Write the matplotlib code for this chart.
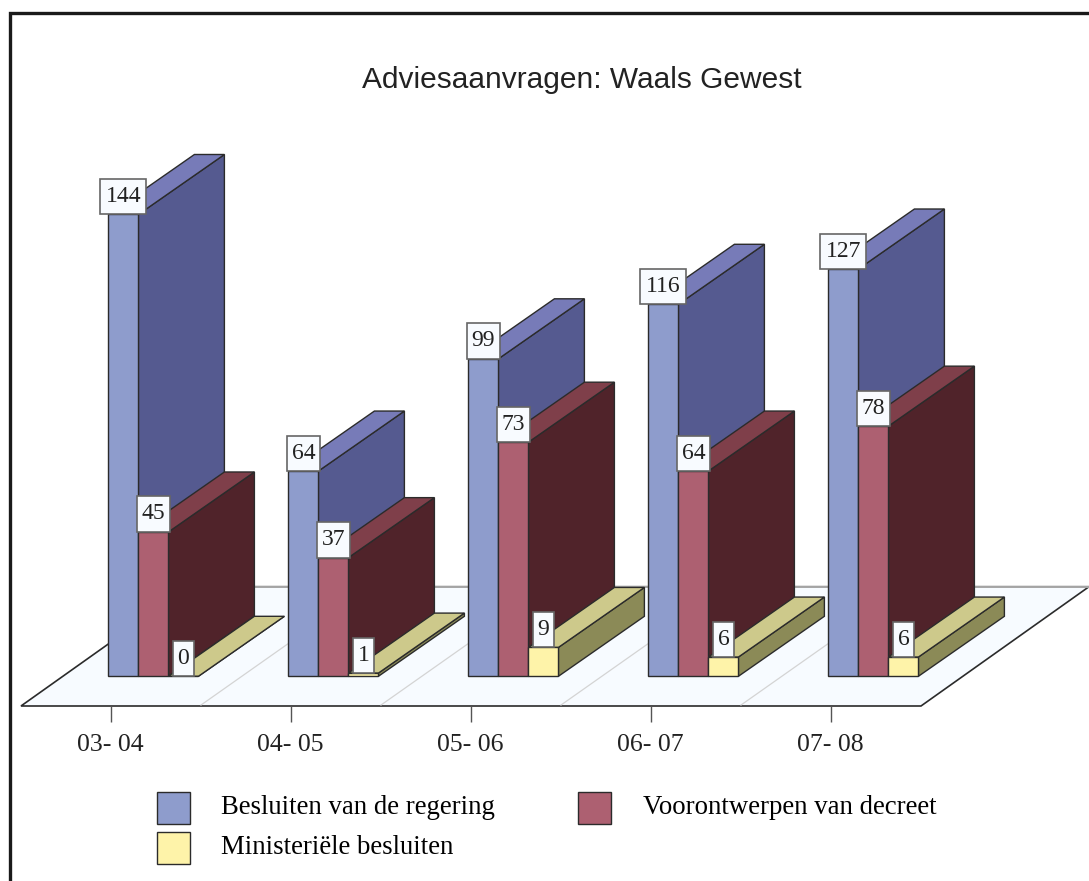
import matplotlib
matplotlib.use('Agg')
import matplotlib.pyplot as plt
from matplotlib.lines import Line2D
from matplotlib.patches import Patch, Polygon, Rectangle
from matplotlib.transforms import Affine2D

years = ['03- 04', '04- 05', '05- 06', '06- 07', '07- 08']
besluiten_regering = [144, 64, 99, 116, 127]
voorontwerpen_decreet = [45, 37, 73, 64, 78]
ministeriele_besluiten = [0, 1, 9, 6, 6]

W, H = 1089, 881
PX_PER_UNIT = 3.207     # pixels per advies
BASE_PX = 676.3
FLOOR_FRONT_PX = 706.0
FLOOR_BACK_PX = 586.7

# x in pixels, y in values
GROUP_STEP = 180
FIRST_BAR = 108.4
BAR_W = 30
DEPTH_X = 86
DEPTH_Y = 60 / PX_PER_UNIT
LINE = '#2b2b2b'
SERIF = 'Liberation Serif'

series = [
    (besluiten_regering, '#8e9ccc', '#777bb8', '#555a90'),
    (voorontwerpen_decreet, '#ad6071', '#7f3f4a', '#50232a'),
    (ministeriele_besluiten, '#fef3a9', '#cdc98b', '#8b8a57'),
]

fig = plt.figure(figsize=(W / 100, H / 100), dpi=100, facecolor='white')
ax = fig.add_axes([0, (H - FLOOR_FRONT_PX) / H, 1, FLOOR_FRONT_PX / H])
ax.set_xlim(0, W)
ax.set_ylim((BASE_PX - FLOOR_FRONT_PX) / PX_PER_UNIT, BASE_PX / PX_PER_UNIT)
ax.set_facecolor('none')
for side in ['top', 'left', 'right', 'bottom']:
    ax.spines[side].set_visible(False)
ax.get_yaxis().set_visible(False)

# floor
floor_y0 = (BASE_PX - FLOOR_FRONT_PX) / PX_PER_UNIT
floor_y1 = (BASE_PX - FLOOR_BACK_PX) / PX_PER_UNIT
ax.add_patch(Polygon([(21, floor_y0), (921, floor_y0), (1089, floor_y1), (189, floor_y1)],
                     facecolor='#f7fbff', edgecolor=LINE, lw=1.2, clip_on=False, zorder=1))
ax.plot([189, 1089], [floor_y1, floor_y1], color='#a8a8a8', lw=1.4, zorder=1.1)
for i in range(1, 5):
    x0 = 21 + GROUP_STEP * i
    ax.plot([x0, x0 + 168], [floor_y0 + 0.3, floor_y1], color='#d4d4d4', lw=0.9, zorder=1.1)

# bars, back to front inside each group
z = 2
for i in range(len(years)):
    for j, (values, front, top, side) in enumerate(series):
        v = values[i]
        x0 = FIRST_BAR + i * GROUP_STEP + j * BAR_W
        x1 = x0 + BAR_W
        ax.add_patch(Polygon([(x1, 0), (x1 + DEPTH_X, DEPTH_Y), (x1 + DEPTH_X, v + DEPTH_Y), (x1, v)],
                             facecolor=side, edgecolor=LINE, lw=1, zorder=z))
        ax.add_patch(Polygon([(x0, v), (x1, v), (x1 + DEPTH_X, v + DEPTH_Y), (x0 + DEPTH_X, v + DEPTH_Y)],
                             facecolor=top, edgecolor=LINE, lw=1, zorder=z))
        ax.bar(x0, v, width=BAR_W, align='edge', color=front, edgecolor=LINE, lw=1, zorder=z)
        z += 1

# value labels sit on top of the front faces
for i in range(len(years)):
    for j, (values, front, top, side) in enumerate(series):
        v = values[i]
        xc = FIRST_BAR + i * GROUP_STEP + (j + 0.5) * BAR_W
        w = 8.5 + 12.5 * len(str(v))
        ax.add_patch(Rectangle((xc - w / 2, v), w, 35.5 / PX_PER_UNIT, facecolor='#f8fbff',
                               edgecolor='#666666', lw=1.2, zorder=50))
        ax.text(xc, v + 18 / PX_PER_UNIT, str(v), ha='center', va='center', family=SERIF,
                fontsize=17, color='#222222', zorder=51)

ax.set_xticks([110.7 + GROUP_STEP * i for i in range(len(years))])
ax.set_xticklabels(years, family=SERIF, fontsize=18.5, color='#222222')
ax.tick_params(axis='x', length=11.3, width=1, color='#555555', pad=9)

fig.text(581.5 / W, 1 - 80 / H, 'Adviesaanvragen: Waals Gewest', ha='center', va='center',
         family='Liberation Sans', fontsize=21.5, color='#222222')

# frame, only left and top are in the picture
fig.add_artist(Line2D([9.8 / W, 9.8 / W, 1], [0, 1 - 12.5 / H, 1 - 12.5 / H], color='#1a1a1a',
                      lw=2.4, solid_joinstyle='miter'))

handles = [Patch(facecolor=series[0][1], edgecolor=LINE, lw=1),
           Patch(facecolor=series[2][1], edgecolor=LINE, lw=1),
           Patch(facecolor=series[1][1], edgecolor=LINE, lw=1)]
labels = ['Besluiten van de regering', 'Ministeriële besluiten', 'Voorontwerpen van decreet']
leg = fig.legend(handles, labels, ncol=2, frameon=False, loc='lower left',
                 bbox_to_anchor=(157 / W, 1 - 864 / H), borderpad=0, borderaxespad=0,
                 prop={'family': SERIF, 'size': 19.25}, handlelength=1.22, handleheight=1.47,
                 handletextpad=1.19, labelspacing=0.285, columnspacing=3.1)
# legend text sits a bit higher than the swatch centres
for t in leg.get_texts():
    t.set_transform(t.get_transform() + Affine2D().translate(0, 3))

fig.savefig('out.png', dpi=100)
